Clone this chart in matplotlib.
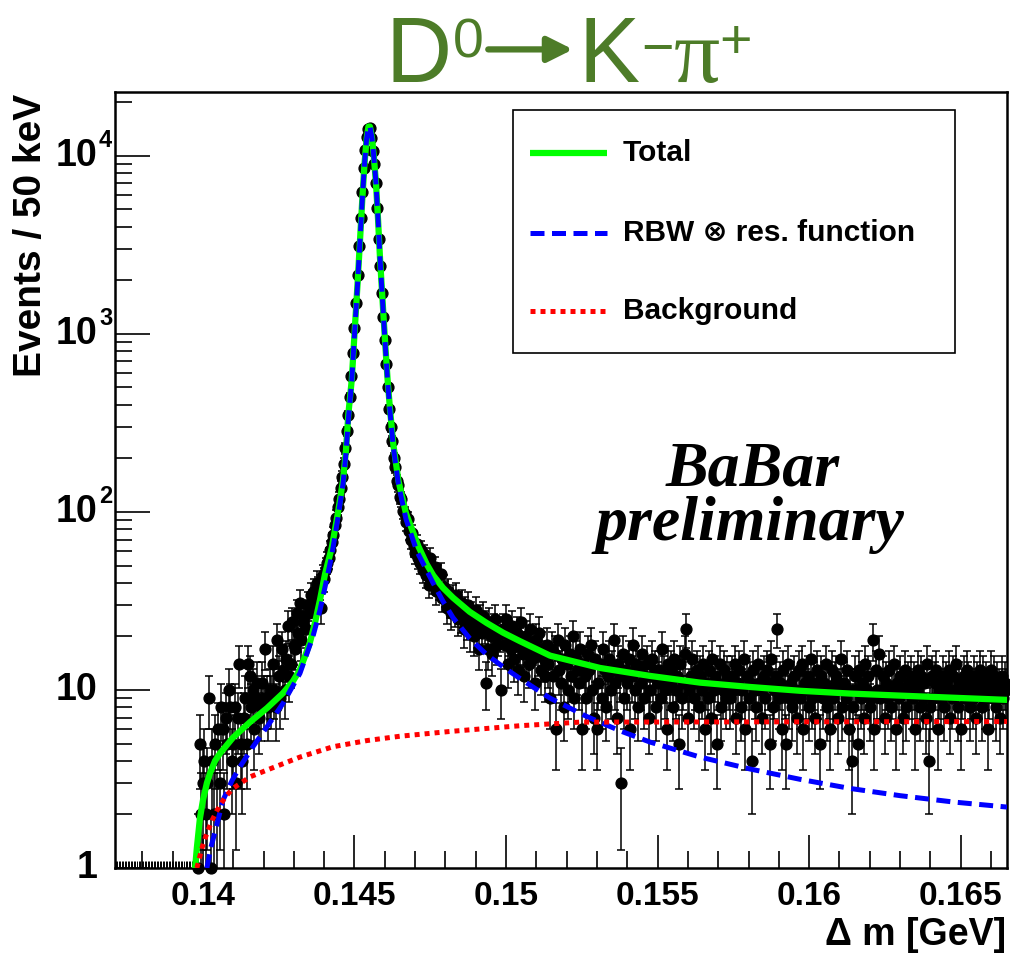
import numpy as np
import matplotlib
matplotlib.use('Agg')
import matplotlib.pyplot as plt
from matplotlib.patches import Rectangle
from matplotlib.transforms import blended_transform_factory

plt.rcParams['font.family'] = ['Liberation Sans', 'DejaVu Sans']

# --- data: events per 50 keV bin, first filled bin centred at 0.13985 GeV
bin_width = 0.00005
first_centre = 0.13985
counts = [
    1, 5, 2, 3, 4, 2, 3, 9, 1, 4, 2, 5, 2, 6, 3, 8, 6, 2, 7, 5,
    10, 8, 4, 5, 8, 3, 7, 14, 5, 4, 7, 9, 5, 14, 12, 8, 10, 6, 9, 11,
    7, 8, 11, 9, 17, 9, 8, 10, 9, 14, 10, 8, 19, 12, 9, 17, 13, 10, 15, 23,
    12, 14, 24, 18, 17, 27, 21, 31, 19, 24, 26, 22, 30, 27, 34, 31, 36, 33, 40, 37,
    38, 29, 44, 42, 48, 52, 55, 61, 68, 74, 84, 93, 106, 118, 137, 158, 187, 228, 285, 350,
    445, 580, 780, 1080, 1500, 2150, 3100, 4500, 6300, 8600, 10800, 12800, 14200, 14300, 12600, 10700, 9000, 7000, 5100, 3400,
    2400, 1700, 1250, 920, 680, 500, 380, 300, 250, 200, 178, 150, 141, 122, 118, 101, 97, 88, 91, 78,
    70, 76, 64, 59, 66, 55,
    52, 61, 47, 58, 44, 50, 39, 55, 46, 41, 49, 36, 44, 38, 45,
    33, 38, 35, 29, 36, 31, 27, 33, 28, 34, 25, 30, 26, 31, 22, 28, 24, 30, 21, 26,
    24, 20, 28, 22, 17, 25, 21, 26, 23, 11, 17, 24, 20, 16, 22, 25, 18, 20, 21, 10,
    22, 18, 25, 14, 20, 17, 23, 15, 19, 21, 13, 18, 24, 16, 12, 20, 17, 14, 22, 15,
    18, 11, 19, 16, 21, 13, 17, 15, 12, 18,
    14, 9, 17, 12, 16, 6, 19, 13, 11, 15, 8, 18, 14, 10, 16, 12, 20, 9, 15, 13,
    11, 17, 6, 14, 12, 9, 16, 13, 18, 10, 7, 15, 6, 11, 14, 9, 17, 13, 8, 12,
    15, 10, 13, 19, 11, 7, 14, 12, 3, 16, 9, 13, 11, 15, 6, 12, 18, 10, 14, 8,
    13, 11, 16, 9, 12, 14, 7, 10, 15, 12, 13, 8, 11, 13, 9, 17, 12, 10, 6, 14,
    11, 13, 8, 15, 10, 12, 5, 14, 9, 11, 16, 22, 7, 10, 12, 15, 9, 11, 13, 8,
    12, 10, 14, 6, 11, 9, 13, 7, 15, 10, 12, 5, 11, 14, 8, 10, 13, 9, 12, 11,
    9, 12, 10, 14, 7, 11, 13, 8, 10, 15, 6, 12, 9, 11, 4, 13, 10, 8, 14, 11,
    10, 7, 12, 9, 13, 11, 5, 15, 8, 10, 12, 22, 9, 11, 6, 13, 10, 5, 14, 9,
    11, 8, 12, 10, 7, 13, 9, 14, 6, 11, 10, 12, 8, 15, 9, 11, 7, 13, 10, 5,
    12, 9, 11, 14, 8, 10, 6, 13, 9, 11, 12, 7, 10, 15, 8, 11, 9, 13, 6, 10,
    4, 8, 12, 10, 5, 13, 9, 11, 7, 14, 10, 12, 8, 9, 19, 6, 13, 10, 16, 9,
    10, 12, 7, 11, 9, 13, 8, 10, 14, 6, 11, 9, 12, 10, 7, 13, 8, 11, 10, 12,
    9, 11, 6, 10, 13, 8, 12, 9, 11, 7, 14, 4, 8, 12, 9, 11, 13, 6, 10, 9,
    12, 8, 11, 10, 13, 7, 9, 12, 10, 14, 8, 11, 6, 10, 12, 9, 13, 11, 8, 10,
    9, 12, 7, 11, 10, 13, 8, 12, 9, 11, 6, 10, 13, 9, 12, 8, 11, 10, 7, 12, 9, 11, 10,
]
# empty bins below threshold
empty_first = 0.137025
n_empty = 56

# fit curves
total_x = [0.13974, 0.13980, 0.13990, 0.14000, 0.14013, 0.14023, 0.14040, 0.14056, 0.14099, 0.14155,
           0.14211, 0.14264, 0.14297, 0.14320, 0.14337, 0.14353, 0.14370, 0.14386, 0.14403, 0.14425,
           0.14445, 0.14462, 0.14472, 0.14480, 0.14491, 0.14500, 0.14510, 0.14518, 0.14526, 0.14533,
           0.14540, 0.14546, 0.14551, 0.14558, 0.14564, 0.14571, 0.14578, 0.14584, 0.14592, 0.14601,
           0.14609, 0.14617, 0.14628, 0.14645, 0.14670, 0.14711, 0.14738, 0.14760, 0.14792, 0.14825,
           0.14880, 0.14936, 0.14990, 0.15046, 0.15145, 0.15310, 0.15475, 0.15640, 0.15805, 0.15970,
           0.16135, 0.16300, 0.16475, 0.16653]
total_y = [1.0, 1.3, 1.9, 2.4, 3.0, 3.4, 4.0, 4.4, 5.4, 6.6,
           7.9, 9.6, 11.2, 13.0, 15.5, 18.5, 24, 32, 45, 63,
           98, 150, 223, 358, 552, 1000, 1900, 3300, 5800, 9000,
           12500, 14600, 14600, 12500, 9800, 7000, 4300, 2700, 1600, 900,
           560, 380, 240, 150, 98, 64, 51, 44, 37.5, 33,
           27.5, 23.8, 21.0, 18.8, 15.6, 13.3, 12.0, 11.0, 10.4, 9.9,
           9.55, 9.3, 9.05, 8.8]

rbw_x = [0.14013, 0.14026, 0.14040, 0.14066, 0.14096, 0.14122, 0.14165, 0.14211, 0.14264, 0.14320,
         0.14363, 0.14386, 0.14403, 0.14425, 0.14445, 0.14462, 0.14472, 0.14480, 0.14491, 0.14500,
         0.14510, 0.14518, 0.14526, 0.14533, 0.14540, 0.14546, 0.14551, 0.14558, 0.14564, 0.14571,
         0.14578, 0.14584, 0.14592, 0.14601, 0.14609, 0.14617, 0.14628, 0.14645, 0.14670, 0.14706,
         0.14738, 0.14759, 0.14792, 0.14825, 0.14880, 0.14936, 0.14990, 0.15046, 0.15145, 0.15266,
         0.15376, 0.15475, 0.15640, 0.15805, 0.15970, 0.16135, 0.16300, 0.16475, 0.16653]
rbw_y = [1.0, 1.3, 1.6, 2.4, 3.1, 3.7, 4.8, 6.2, 8.4, 12.4,
         20, 28, 38, 57, 92, 143, 215, 335, 545, 995,
         1890, 3290, 5790, 8990, 12490, 14590, 14590, 12490, 9790, 6990,
         4290, 2690, 1590, 890, 550, 370, 232, 143, 91, 60,
         47, 40, 31.5, 25.5, 19.5, 15.8, 13.5, 11.6, 9.0, 7.1,
         5.9, 5.1, 4.2, 3.6, 3.15, 2.8, 2.55, 2.35, 2.2]

bkg_x = [0.13980, 0.13997, 0.14013, 0.14030, 0.14046, 0.14073, 0.14099, 0.14155, 0.14211, 0.14320,
         0.14429, 0.14541, 0.14650, 0.14815, 0.15046, 0.15244, 0.16653]
bkg_y = [1.0, 1.3, 1.57, 1.85, 2.1, 2.5, 2.8, 3.25, 3.55, 4.2,
         4.8, 5.2, 5.5, 5.85, 6.3, 6.6, 6.65]

labels = ['Total', 'RBW \u2297 res. function', 'Background']
xtick_vals = [0.14, 0.145, 0.15, 0.155, 0.16, 0.165]
xtick_text = ['0.14', '0.145', '0.15', '0.155', '0.16', '0.165']
ytick_vals = [1, 10, 100, 1000, 10000]
ytick_base = ['1', '10', '10', '10', '10']
ytick_exp = ['', '', '2', '3', '4']

x = first_centre + bin_width * np.arange(len(counts))
y = np.array(counts, dtype=float)
x_empty = empty_first + bin_width * np.arange(n_empty)

fig = plt.figure(figsize=(10.1, 9.56), dpi=100)
ax = fig.add_axes([0.1139, 0.092, 0.8832, 0.812])
ax.set_yscale('log')
ax.set_xlim(0.1371, 0.16653)
ax.set_ylim(1, 22900)

ax.errorbar(x, y, yerr=np.sqrt(y), fmt='none', ecolor='black', elinewidth=1.1,
            capsize=3, capthick=1.1, zorder=2)
ax.plot(x, y, 'o', color='black', ms=7.8, zorder=2, clip_on=False)
ax.vlines(x_empty, 1.0, 1.1, color='black', lw=0.7, zorder=2)

green_style = dict(color='#00ff00', lw=4.5, ls='-', solid_capstyle='butt')
blue_style = dict(color='#0000ff', lw=3.6, ls=(0, (2.8, 1.5)), dash_capstyle='butt')
red_style = dict(color='#ff0000', lw=3.6, ls=(0, (1, 1)), dash_capstyle='butt')
ax.plot(total_x, total_y, zorder=3, **green_style)
ax.plot(rbw_x, rbw_y, zorder=4, **blue_style)
ax.plot(bkg_x, bkg_y, zorder=5, **red_style)

# axes styling (ROOT look)
for s in ax.spines.values():
    s.set_linewidth(1.8)
ax.set_xticks(xtick_vals)
ax.set_xticklabels(xtick_text)
ax.set_xticks(np.arange(0.138, 0.1665, 0.001), minor=True)
ax.set_yticks(ytick_vals)
ax.set_yticklabels([])
ax.tick_params(which='both', direction='in', top=False, right=False, width=1.2)
ax.tick_params(axis='x', which='major', length=24, pad=9, labelsize=24)
ax.tick_params(axis='x', which='minor', length=12)
ax.tick_params(axis='y', which='major', length=25)
ax.tick_params(axis='y', which='minor', length=12)
for t in ax.get_xticklabels():
    t.set_fontweight('bold')

# y tick labels in ROOT style: base right-aligned, exponent hanging to the right
ytr = blended_transform_factory(ax.transAxes, ax.transData)
for v, b, e in zip(ytick_vals, ytick_base, ytick_exp):
    ax.text(-0.0195, v, b, transform=ytr, ha='right', va='center', fontsize=27,
            fontweight='bold', clip_on=False)
    if e:
        ax.annotate(e, xy=(-0.0195, v), xycoords=ytr, xytext=(1, 3),
                    textcoords='offset points', ha='left', va='bottom', fontsize=17,
                    fontweight='bold', annotation_clip=False)

fig.text(0.031, 0.902, 'Events / 50 keV', rotation=90, ha='center', va='top',
         fontsize=28, fontweight='bold')
fig.text(0.996, 0.022, '\u0394 m [GeV]', ha='right', va='center',
         fontsize=27, fontweight='bold')

# legend box
ax.add_patch(Rectangle((0.446, 0.664), 0.496, 0.313, transform=ax.transAxes,
                       facecolor='white', edgecolor='black', lw=1.2, zorder=6))
rows = [0.921, 0.818, 0.718]
for st, lab, yy in zip([green_style, blue_style, red_style], labels, rows):
    ax.plot([0.465, 0.552], [yy, yy], transform=ax.transAxes, zorder=7, **st)
    ax.text(0.5695, yy, lab, transform=ax.transAxes, ha='left', va='center',
            fontsize=21.5, fontweight='bold', zorder=7)

# BaBar preliminary
fig.text(0.745, 1 - 485 / 956, 'BaBar', ha='center', va='baseline', fontsize=46,
         family='Liberation Serif', fontweight='bold', style='italic')
fig.text(0.743, 1 - 540 / 956, 'preliminary', ha='center', va='baseline', fontsize=46,
         family='Liberation Serif', fontweight='bold', style='italic')

# title D0 -> K- pi+
col = '#4d7c28'
tD = fig.text(0.382, 1 - 82 / 956, 'D', fontsize=66, color=col, va='baseline')
kw = dict(textcoords='offset points', annotation_clip=False, color=col, ha='left')
t0 = ax.annotate('0', xy=(1, 1), xycoords=tD, xytext=(1, -2), va='top', fontsize=40, **kw)
tK = ax.annotate('K', xy=(1, 0), xycoords=(t0, tD), xytext=(68, 0), va='bottom',
                 fontsize=66, **kw)
ax.annotate('', xy=(0, 0.6), xycoords=tK, xytext=(1, 0.6), textcoords=(t0, tD),
            annotation_clip=False,
            arrowprops=dict(arrowstyle='-|>', color=col, lw=4.5, mutation_scale=38,
                            shrinkA=3, shrinkB=4))
tm = ax.annotate('\u2212', xy=(1, 1), xycoords=tK, xytext=(1, -8), va='top',
                 fontsize=40, **kw)
tp = ax.annotate('\u03c0', xy=(1, 0), xycoords=(tm, tK), xytext=(0, 0), va='bottom',
                 fontsize=66, family='Liberation Serif', **kw)
ax.annotate('+', xy=(1, 1), xycoords=(tp, tK), xytext=(0, -2), va='top',
            fontsize=40, **kw)

fig.savefig('out.png', dpi=100)
